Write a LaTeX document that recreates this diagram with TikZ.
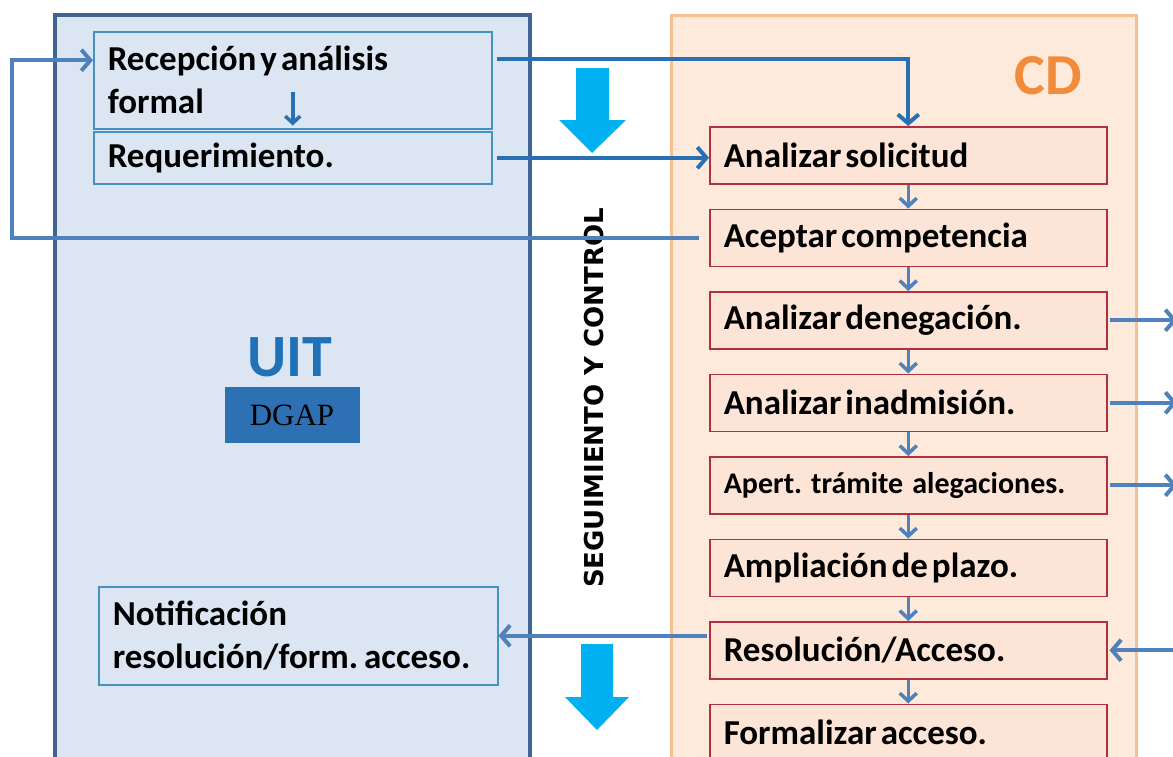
\documentclass[tikz,border=0pt]{standalone}
\usepackage{fontspec}
\setmainfont{Carlito}
\newfontfamily\dejavu{DejaVu Sans}
\newfontfamily\tnr{Liberation Serif}
\usetikzlibrary{arrows.meta,positioning}

\newcommand\tightwords{\spaceskip 4pt\relax\xspaceskip 6pt\relax}

\definecolor{uitfill}{RGB}{220,230,242}
\definecolor{uitline}{RGB}{65,100,145}
\definecolor{cdfill}{RGB}{253,234,218}
\definecolor{cdline}{RGB}{249,191,143}
\definecolor{boxline}{RGB}{176,48,64}
\definecolor{boxfill}{RGB}{252,229,214}
\definecolor{lboxline}{RGB}{70,145,195}
\definecolor{steel}{RGB}{79,129,189}
\definecolor{deepblue}{RGB}{40,112,180}
\definecolor{cyanarr}{RGB}{0,176,240}
\definecolor{cdorange}{RGB}{240,140,60}
\definecolor{uitblue}{RGB}{31,114,184}
\definecolor{dgapfill}{RGB}{46,112,180}

\begin{document}
\begin{tikzpicture}[x=1pt, y=-1pt, node distance=24pt,
  cd node/.style={draw=boxline, fill=boxfill, line width=1.5pt, minimum width=397pt, minimum height=57pt, text width=369pt, inner xsep=14pt, align=left, font=\bfseries\fontsize{35}{40}\selectfont, execute at begin node=\tightwords},
  uit node/.style={draw=lboxline, fill=uitfill, line width=1.5pt, inner xsep=14pt, align=left, anchor=north west, font=\bfseries\fontsize{35}{43}\selectfont, execute at begin node=\tightwords},
  flow/.style={draw=steel, line width=4pt, -{Straight Barb[length=9pt,width=21pt]}},
  step arrow/.style={draw=steel, line width=3.5pt, -{Straight Barb[length=8pt,width=17pt]}},
  big arrow/.style={fill=cyanarr}]

  \useasboundingbox (0,0) rectangle (1173,756);
  \clip (0,0) rectangle (1173,756);
  \fill[white] (0,0) rectangle (1173,756);

  % the two panels
  \filldraw[fill=uitfill, draw=uitline, line width=4pt] (55,15) rectangle (530,800);
  \filldraw[fill=cdfill, draw=cdline, line width=3pt] (671,15) rectangle (1136,800);

  \node[font=\bfseries\fontsize{60}{60}\selectfont, text=uitblue] (uit) at (290,357) {UIT};
  \node[fill=dgapfill, minimum width=135pt, minimum height=56pt, font=\tnr\fontsize{31}{31}\selectfont] (dgap) at (292,415) {DGAP\hspace{8pt}};
  \node[font=\bfseries\fontsize{58}{58}\selectfont, text=cdorange] (cd) at (1048,76) {CD};
  \node[rotate=90, font=\dejavu\bfseries\fontsize{26}{26}\selectfont] (seg) at (594,398) {SEGUIMIENTO Y CONTROL};

  % UIT boxes
  \node[uit node, text width=370pt, minimum height=97pt] (recep) at (93,31) {Recepción y análisis\\formal};
  \node[uit node, text width=370pt, minimum height=52pt] (req) at (93,131) {Requerimiento.};
  \node[uit node, text width=371pt, minimum height=98pt] (notif) at (98,586) {Notificación\\resolución/form. acceso.};

  % CD boxes
  \node[cd node, anchor=north west] (solic) at (709,126) {Analizar solicitud};
  \node[cd node] (acept) [below=of solic] {Aceptar competencia};
  \node[cd node] (deneg) [below=of acept] {Analizar denegación.};
  \node[cd node] (inadm) [below=of deneg] {Analizar inadmisión.};
  \node[cd node, font=\bfseries\fontsize{30}{36}\selectfont] (apert) [below=of inadm] {Apert.\hspace{9pt}trámite\hspace{9pt}alegaciones.};
  \node[cd node] (ampl) [below=of apert] {Ampliación de plazo.};
  \node[cd node] (resol) [below=of ampl] {Resolución/Acceso.};
  \node[cd node] (formal) [below=of resol] {Formalizar acceso.};

  % big arrows
  \path[big arrow] (576,68) -- (609,68) -- (609,120) -- (626,120) -- (592,153) -- (559,120) -- (576,120) -- cycle;
  \path[big arrow] (581,644) -- (613,644) -- (613,697) -- (629,697) -- (597,730) -- (565,697) -- (581,697) -- cycle;

  \coordinate (loopx) at (12,0);
  \coordinate (redge) at (1177,0);

  % connectors
  \draw[deepblue, line width=3.5pt, -{Straight Barb[length=7pt,width=15pt]}] ([yshift=38pt]recep.south) -- ([yshift=4pt]recep.south);
  \draw[flow, draw=deepblue, shorten <=4pt] ([yshift=21pt]recep.east) -| (solic.north);
  \draw[flow, draw=deepblue, shorten <=4pt] (req.east) -- (req.east -| solic.west);
  \draw[flow, shorten <=10pt] (acept.west) -- (acept.west -| loopx) |- ([yshift=20pt]recep.west);
  \draw[flow, shorten <=2pt] (notif.east -| resol.west) -- (notif.east);

  \foreach \a/\b in {solic/acept, acept/deneg, deneg/inadm, inadm/apert, apert/ampl, ampl/resol, resol/formal}
    \draw[step arrow] (\a.south) -- (\b.north);

  \foreach \n in {deneg, inadm, apert}
    \draw[flow, shorten <=2pt] (\n.east) -- (\n.east -| redge);
  \draw[flow, shorten >=2pt] (resol.east -| redge) -- (resol.east);

\end{tikzpicture}
\end{document}
